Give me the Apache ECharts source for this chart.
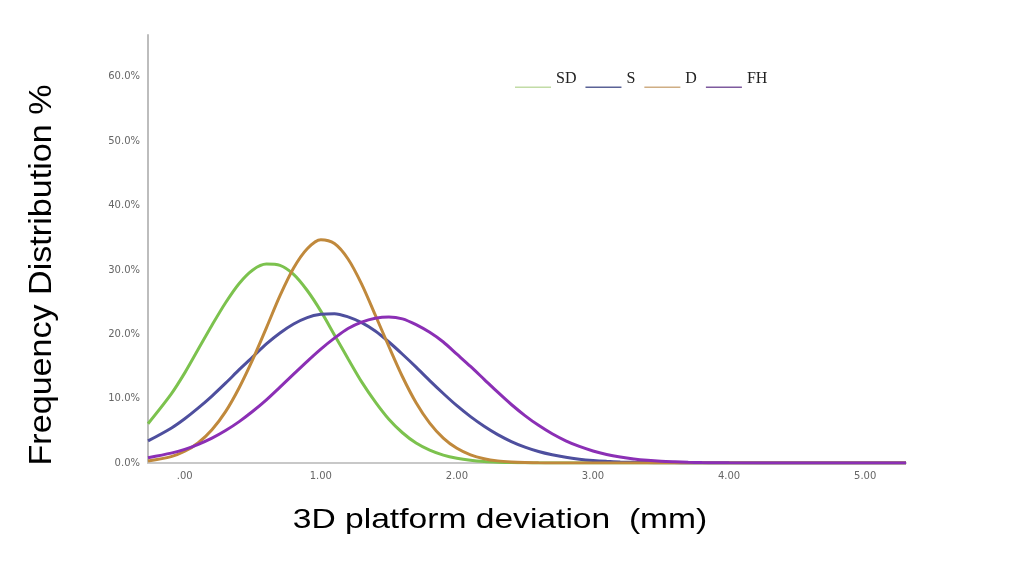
<!DOCTYPE html>
<html>
<head>
<meta charset="utf-8">
<script src="https://cdn.jsdelivr.net/npm/echarts@6/dist/echarts.min.js"></script>
<style>html,body{margin:0;padding:0;background:#fff}#c{width:1024px;height:578px}</style>
</head>
<body>
<div id="c"></div>
<script>
// deviation (mm)
const xs = [-0.27, -0.1, 0, 0.1, 0.2, 0.3, 0.4, 0.5, 0.6, 0.7, 0.8, 0.9, 1.0, 1.1, 1.2, 1.3, 1.4, 1.5, 1.6, 1.7, 1.8, 1.9, 2.0, 2.1, 2.2, 2.3, 2.4, 2.5, 2.6, 2.7, 2.8, 2.9, 3.0, 3.1, 3.2, 3.3, 3.4, 3.5, 3.6, 3.7, 3.8, 3.9, 4.0, 4.5, 5.0, 5.3];
// frequency distribution (%)
const sdVals = [6.1, 10.7, 14.0, 17.7, 21.4, 24.9, 27.9, 30.0, 30.9, 30.7, 29.3, 26.8, 23.6, 19.9, 16.2, 12.6, 9.5, 6.8, 4.7, 3.1, 2.0, 1.23, 0.73, 0.41, 0.22, 0.12, 0.06, 0.03, 0.01, 0, 0, 0, 0, 0, 0, 0, 0, 0, 0, 0, 0, 0, 0, 0, 0, 0];
const sVals  = [3.43, 5.41, 6.88, 8.56, 10.4, 12.4, 14.5, 16.5, 18.5, 20.2, 21.6, 22.6, 23.1, 23.2, 22.7, 21.8, 20.5, 18.8, 16.9, 14.9, 12.8, 10.8, 8.9, 7.2, 5.7, 4.4, 3.33, 2.46, 1.78, 1.27, 0.88, 0.60, 0.40, 0.26, 0.16, 0.10, 0.06, 0.04, 0.02, 0.01, 0, 0, 0, 0, 0, 0];
const dVals  = [0.31, 0.99, 1.82, 3.15, 5.16, 7.98, 11.7, 16.1, 21.0, 26.0, 30.3, 33.3, 34.7, 34.1, 31.7, 27.8, 23.0, 18.1, 13.4, 9.36, 6.2, 3.87, 2.28, 1.27, 0.67, 0.33, 0.16, 0.07, 0.03, 0.01, 0, 0, 0, 0, 0, 0, 0, 0, 0, 0, 0, 0, 0, 0, 0, 0];
const fhVals = [0.83, 1.53, 2.12, 2.90, 3.86, 5.04, 6.43, 8.04, 9.82, 11.8, 13.8, 15.8, 17.7, 19.4, 20.9, 21.9, 22.5, 22.7, 22.4, 21.5, 20.3, 18.8, 16.9, 15.0, 13.0, 11.0, 9.09, 7.37, 5.85, 4.54, 3.45, 2.57, 1.87, 1.33, 0.93, 0.63, 0.42, 0.27, 0.18, 0.11, 0.07, 0.04, 0.02, 0, 0, 0];
const seriesNames = ['SD', 'S', 'D', 'FH'];
const xTicks = [0, 1, 2, 3, 4, 5];
const yTicks = [0, 10, 20, 30, 40, 50, 60];

const lineColors = ['#7cc24e', '#4e4f9e', '#c0893c', '#8b2fb5'];
const legendColors = ['#c2dca6', '#5a6296', '#cfae84', '#7e5a9e'];
const allVals = [sdVals, sVals, dVals, fhVals];

const chart = echarts.init(document.getElementById('c'), null, {renderer: 'canvas'});
chart.setOption({
  animation: false,
  backgroundColor: '#ffffff',
  grid: {left: 148, right: 118, top: 35, bottom: 115},
  legend: {
    left: 515, top: 70, padding: 0,
    itemWidth: 36, itemHeight: 18, itemGap: 9,
    icon: 'path://M0,0 M0,16.5 L36,16.5 L36,18 L0,18 Z',
    textStyle: {fontFamily: 'Liberation Serif', fontSize: 16, color: '#222'},
    data: seriesNames.map((n, i) => ({name: n, itemStyle: {color: legendColors[i]}}))
  },
  xAxis: {
    type: 'value', min: -0.27, max: 5.3,
    axisLine: {show: true, lineStyle: {color: '#c8c8c8', width: 2}},
    axisTick: {show: false},
    splitLine: {show: false},
    axisLabel: {
      customValues: xTicks,
      margin: 8,
      color: '#666', fontSize: 10, fontFamily: 'DejaVu Sans',
      formatter: v => v === 0 ? '.00' : v.toFixed(2)
    }
  },
  yAxis: {
    type: 'value', min: 0, max: 66.5,
    axisLine: {show: true, onZero: false, lineStyle: {color: '#bdbdbd', width: 2}},
    axisTick: {show: false},
    splitLine: {show: false},
    axisLabel: {
      customValues: yTicks,
      margin: 8,
      color: '#666', fontSize: 10, fontFamily: 'DejaVu Sans',
      formatter: v => v.toFixed(1) + '%'
    }
  },
  graphic: [
    {type: 'text', x: 500, y: 520, scaleX: 1.2,
     style: {text: '3D platform deviation  (mm)', font: '28px "Liberation Sans"', fill: '#000', align: 'center', verticalAlign: 'middle'}},
    {type: 'text', x: 42, y: 275, rotation: Math.PI / 2, scaleX: 1.1,
     style: {text: 'Frequency Distribution %', font: '31px "Liberation Sans"', fill: '#000', align: 'center', verticalAlign: 'middle'}}
  ],
  series: seriesNames.map((n, i) => ({
    name: n, type: 'line', smooth: 0.3, showSymbol: false,
    lineStyle: {color: lineColors[i], width: 3},
    itemStyle: {color: lineColors[i]},
    data: xs.map((x, k) => [x, allVals[i][k]])
  }))
});
</script>
</body>
</html>
